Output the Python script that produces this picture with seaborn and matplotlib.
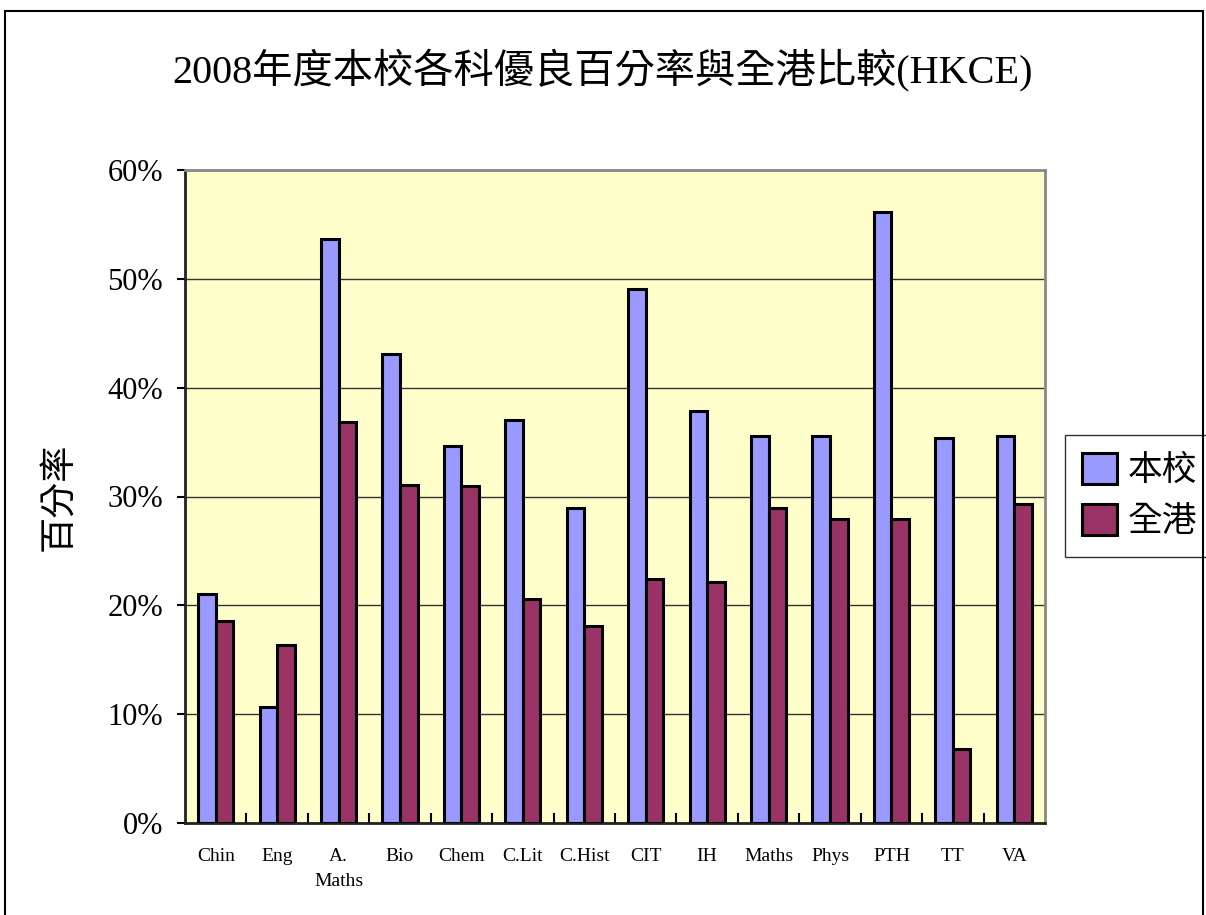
import matplotlib
matplotlib.use("Agg")
import matplotlib.pyplot as plt
import numpy as np
import pandas as pd
import seaborn as sns
from matplotlib.patches import Rectangle
from matplotlib.ticker import FuncFormatter, MultipleLocator

subjects = ["Chin", "Eng", "A.\nMaths", "Bio", "Chem", "C.Lit", "C.Hist",
            "CIT", "IH", "Maths", "Phys", "PTH", "TT", "VA"]
school = [21.0, 10.7, 53.7, 43.1, 34.6, 37.0, 28.9, 49.1, 37.9, 35.6, 35.6, 56.1, 35.4, 35.6]
hk = [18.6, 16.4, 36.8, 31.1, 31.0, 20.6, 18.1, 22.4, 22.1, 28.9, 27.9, 27.9, 6.8, 29.3]
series_names = ["本校", "全港"]
colors = ["#9999FF", "#993366"]

df = pd.DataFrame({"subject": subjects, series_names[0]: school, series_names[1]: hk})
long_df = df.melt(id_vars="subject", var_name="series", value_name="pct")

sns.set_style("white")
fonts = ["Liberation Serif", "Noto Sans CJK TC", "DejaVu Sans"]
plt.rcParams["font.family"] = fonts
plt.rcParams["text.color"] = "black"
plt.rcParams["axes.labelcolor"] = "black"
plt.rcParams["xtick.color"] = "black"
plt.rcParams["ytick.color"] = "black"

fig = plt.figure(figsize=(12.06, 9.15), dpi=100)
ax = fig.add_axes([185 / 1206, 1 - 823 / 915, (1045 - 185) / 1206, (823 - 170) / 915])

sns.barplot(data=long_df, x="subject", y="pct", hue="series", palette=colors,
            width=0.57, edgecolor="black", linewidth=2.2, saturation=1, ax=ax, zorder=3)

ax.set_facecolor("#FFFFCC")
ax.set_ylim(0, 60)
ax.set_xlim(-0.5, len(subjects) - 0.5)
ax.yaxis.set_major_locator(MultipleLocator(10))
ax.yaxis.set_major_formatter(FuncFormatter(lambda v, p: f"{v:.0f}%"))
ax.grid(axis="y", color="#333333", linewidth=1.0, zorder=0)
ax.set_axisbelow(True)
for s in ["top", "right"]:
    ax.spines[s].set_color("#888888")
    ax.spines[s].set_linewidth(2)
for s in ["left", "bottom"]:
    ax.spines[s].set_color("#222222")
    ax.spines[s].set_linewidth(2)

ax.tick_params(axis="y", which="major", direction="out", length=6, width=1.5,
               labelsize=22, pad=10, left=True)
ax.set_xticks(np.arange(len(subjects)))
ax.set_xticklabels(subjects, fontsize=14, linespacing=1.6)
ax.tick_params(axis="x", which="major", length=0, pad=18)
ax.set_xticks(np.arange(len(subjects) - 1) + 0.5, minor=True)
ax.tick_params(axis="x", which="minor", direction="in", length=7, width=1.5, bottom=True)
for lab in ax.get_xticklabels():
    lab.set_verticalalignment("top")

ax.set_xlabel("")
ax.set_ylabel("百分率", fontsize=26, labelpad=22)

fig.suptitle("2008年度本校各科優良百分率與全港比較(HKCE)", fontsize=29, y=1 - 70 / 915, va="center")

handles, labels = ax.get_legend_handles_labels()
ax.legend(handles, labels, loc="center left", bbox_to_anchor=(1065 / 1206, 1 - 496 / 915),
          bbox_transform=fig.transFigure, fontsize=25, frameon=True, fancybox=False,
          edgecolor="black", handlelength=1.0, handleheight=1.0, handletextpad=0.3,
          borderpad=0.5, labelspacing=0.45, borderaxespad=0)

fig.patches.append(Rectangle((5 / 1206, -0.01), (1203 - 5) / 1206, 1 - 11 / 915 + 0.01,
                             transform=fig.transFigure, fill=False, edgecolor="black", linewidth=1.5))

fig.savefig("out.png", dpi=100)
